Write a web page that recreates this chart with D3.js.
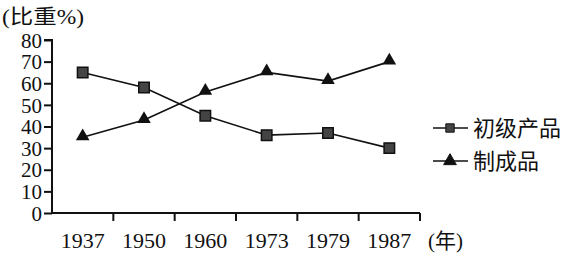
<!DOCTYPE html>
<html>
<head>
<meta charset="utf-8">
<script src="https://cdn.jsdelivr.net/npm/d3@7"></script>
<style>
  body { margin: 0; background: #fff; }
  text { font-family: "Liberation Serif", "Noto Sans CJK SC", serif; fill: #111; }
</style>
</head>
<body>
<div class="chart"></div>
<script>
(function() {
    const width = 574
    const height = 261

    const years = ['1937', '1950', '1960', '1973', '1979', '1987']
    const primary = [65, 58, 45, 36, 37, 30]       // 初级产品
    const manufactured = [35, 43, 56, 65, 61, 70]  // 制成品
    const yTicks = [0, 10, 20, 30, 40, 50, 60, 70, 80]

    const left = 52, right = 420, top = 40, bottom = 213

    const svg = d3.select('.chart')
        .append('svg')
        .attr('width', width)
        .attr('height', height)
        .attr('viewBox', `0 0 ${width} ${height}`)

    const x = d3.scaleBand().domain(years).range([left, right])
    const y = d3.scaleLinear().domain([0, 80]).range([bottom, top])

    // y axis
    const yAxis = svg.append('g')
        .attr('transform', `translate(${left},0)`)
        .call(d3.axisLeft(y).tickValues(yTicks).tickSize(8).tickPadding(2))
    yAxis.select('.domain').attr('stroke', '#111').attr('stroke-width', 2).attr('d', `M-8,${top}H0V${bottom}`)
    yAxis.selectAll('.tick line').attr('stroke', '#111').attr('stroke-width', 2)
    yAxis.selectAll('.tick text')
        .style('font-size', '21px')
        .attr('dy', '0.34em')

    // x axis: ticks on band edges
    const xAxis = svg.append('g')
        .attr('transform', `translate(0,${bottom})`)
    xAxis.append('line')
        .attr('x1', left).attr('x2', right)
        .attr('stroke', '#111').attr('stroke-width', 2)
    const edges = years.map(d => x(d) + x.bandwidth())
    xAxis.selectAll('.xtick')
        .data(edges)
        .join('line')
        .attr('x1', d => d).attr('x2', d => d)
        .attr('y1', 0).attr('y2', 8)
        .attr('stroke', '#111').attr('stroke-width', 2)
    xAxis.selectAll('.xlabel')
        .data(years)
        .join('text')
        .attr('x', d => x(d) + x.bandwidth() / 2)
        .attr('y', 35)
        .attr('text-anchor', 'middle')
        .style('font-size', '22px')
        .text(d => d)

    svg.append('text')
        .attr('x', 428).attr('y', 248)
        .style('font-size', '21px')
        .text('(年)')

    svg.append('text')
        .attr('x', 2).attr('y', 24)
        .style('font-size', '20px')
        .attr('textLength', 82)
        .attr('lengthAdjust', 'spacingAndGlyphs')
        .text('(比重%)')

    const cx = d => x(d) + x.bandwidth() / 2
    const line = d3.line().x((d, i) => cx(years[i])).y(d => y(d))

    svg.append('path')
        .attr('d', line(primary))
        .attr('fill', 'none').attr('stroke', '#111').attr('stroke-width', 1.6)
    svg.append('path')
        .attr('d', line(manufactured))
        .attr('fill', 'none').attr('stroke', '#111').attr('stroke-width', 1.6)

    const square = d3.symbol().type(d3.symbolSquare).size(110)
    const triangle = d3.symbol().type(d3.symbolTriangle).size(80)

    svg.selectAll('.sq')
        .data(primary)
        .join('path')
        .attr('d', square)
        .attr('transform', (d, i) => `translate(${cx(years[i])},${y(d)})`)
        .attr('fill', '#444').attr('stroke', '#111').attr('stroke-width', 1.5)

    svg.selectAll('.tri')
        .data(manufactured)
        .join('path')
        .attr('d', triangle)
        .attr('transform', (d, i) => `translate(${cx(years[i])},${y(d) - 1})`)
        .attr('fill', '#111')

    // legend
    const legend = [
        { name: '初级产品', sym: square, fill: '#444', ly: 128 },
        { name: '制成品', sym: triangle, fill: '#111', ly: 161 }
    ]
    const lg = svg.selectAll('.legend')
        .data(legend)
        .join('g')
        .attr('transform', d => `translate(0,${d.ly})`)
    lg.append('line')
        .attr('x1', 433).attr('x2', 468)
        .attr('stroke', '#111').attr('stroke-width', 1.6)
    lg.append('path')
        .attr('d', d => d.sym.size(70)())
        .attr('transform', 'translate(450,0)')
        .attr('fill', d => d.fill).attr('stroke', '#111').attr('stroke-width', 1)
    lg.append('text')
        .attr('x', 473).attr('y', 0)
        .attr('dy', '0.36em')
        .style('font-size', '22px')
        .text(d => d.name)
}())
</script>
</body>
</html>
